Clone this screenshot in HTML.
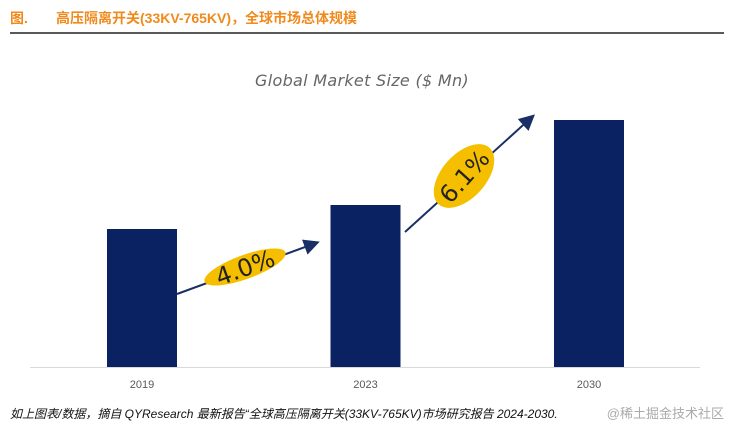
<!DOCTYPE html>
<html><head><meta charset="utf-8"><style>
body{margin:0;background:#fff;width:732px;height:433px;overflow:hidden;font-family:"Liberation Sans","Noto Sans CJK SC",sans-serif}
</style></head><body>
<svg width="732" height="433" xmlns="http://www.w3.org/2000/svg">
<text x="10" y="23" font-size="14" font-weight="bold" fill="#f08a1c" font-family="Liberation Sans,Noto Sans CJK SC,sans-serif">图.</text>
<text x="56" y="23" font-size="14" font-weight="bold" fill="#f08a1c" font-family="Liberation Sans,Noto Sans CJK SC,sans-serif">高压隔离开关(33KV-765KV)，全球市场总体规模</text>
<line x1="10" y1="33" x2="724" y2="33" stroke="#222" stroke-width="1.5"/>
<text x="362" y="86" text-anchor="middle" font-size="16" fill="#666" font-style="italic" font-family="DejaVu Sans,sans-serif" letter-spacing="0.3">Global Market Size ($ Mn)</text>
<g id="bars"></g>
<line x1="30" y1="367.5" x2="700" y2="367.5" stroke="#d9d9d9"/>
<g id="labels"></g>
<defs><marker id="ah" markerWidth="8" markerHeight="8" refX="6" refY="4" orient="auto"><path d="M0,0 L8,4 L0,8 Z" fill="#1a2f66"/></marker></defs>
<g>
<line x1="177" y1="294" x2="316" y2="243" stroke="#1a2f66" stroke-width="2" marker-end="url(#ah)"/>
<ellipse cx="245" cy="267" rx="43" ry="12" transform="rotate(-20 245 267)" fill="#f5bf00"/>
<text x="245" y="276" text-anchor="middle" font-size="24" fill="#222" transform="rotate(-20 245 267)" font-family="DejaVu Sans,sans-serif">4.0%</text>
</g>
<g>
<line x1="405" y1="232" x2="532" y2="117" stroke="#1a2f66" stroke-width="2" marker-end="url(#ah)"/>
<ellipse cx="464" cy="176" rx="38" ry="22" transform="rotate(-48 464 176)" fill="#f5bf00"/>
<text x="464" y="185" text-anchor="middle" font-size="24" fill="#222" transform="rotate(-48 464 176)" font-family="DejaVu Sans,sans-serif">6.1%</text>
</g>
<text x="10" y="418" font-size="12" font-style="italic" fill="#111">如上图表/数据，摘自 QYResearch 最新报告“全球高压隔离开关(33KV-765KV)市场研究报告 2024-2030.</text>
<text x="724" y="418" text-anchor="end" font-size="13" fill="#aaa">@稀土掘金技术社区</text>
</svg>
<script>
const categories=["2019","2023","2030"];
const values=[138,162,247];
const ns="http://www.w3.org/2000/svg";
const x0=142,dx=223.5,bw=70,base=367,scale=1;
const xs=i=>x0+i*dx;
const ys=v=>base-v*scale;
const bars=document.getElementById('bars'),labels=document.getElementById('labels');
categories.forEach((c,i)=>{
 const r=document.createElementNS(ns,'rect');
 r.setAttribute('x',xs(i)-bw/2);r.setAttribute('y',ys(values[i]));
 r.setAttribute('width',bw);r.setAttribute('height',base-ys(values[i]));
 r.setAttribute('fill','#0b2262');
 
 
 bars.appendChild(r);
 const t=document.createElementNS(ns,'text');
 t.setAttribute('x',xs(i));t.setAttribute('y',388);t.setAttribute('text-anchor','middle');
 t.setAttribute('font-size','11');t.setAttribute('fill','#595959');t.textContent=c;
 
 
 labels.appendChild(t);
});
</script>
</body></html>
